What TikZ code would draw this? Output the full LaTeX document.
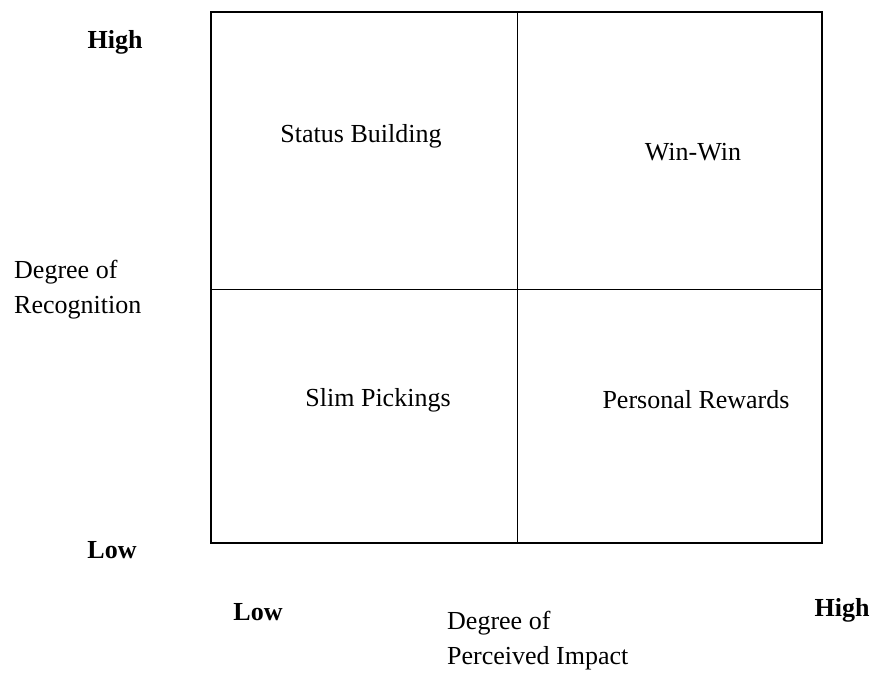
\documentclass[tikz,border=0pt]{standalone}
\usepackage{fontspec}
\setmainfont{Liberation Serif}
\usepackage{tikz}

\begin{document}
\begin{tikzpicture}[x=1pt, y=-1pt]
	\tikzstyle{label} = [font=\fontsize{26}{35}\selectfont, inner sep=0pt]
	\tikzstyle{level} = [label, font=\fontsize{26}{35}\selectfont\bfseries]
	\tikzstyle{axis} = [label, align=left, anchor=west]
	\tikzstyle{frame} = [line width=2.2pt]
	\tikzstyle{divider} = [line width=0.8pt]
	\useasboundingbox (0,0) rectangle (880,675);
	\coordinate (tl) at (211,12);
	\coordinate (br) at (822,543);
	\coordinate (top) at (517,12);
	\coordinate (bottom) at (517,543);
	\coordinate (left) at (211,289);
	\coordinate (right) at (822,289);
	\draw[divider] (top) -- (bottom);
	\draw[divider] (left) -- (right);
	\draw[frame] (tl) rectangle (br);
	\node[label](status) at (361,136){Status Building};
	\node[label](winwin) at (693,152){Win-Win};
	\node[label](slim) at (378,400){Slim Pickings};
	\node[label](personal) at (696,400){Personal Rewards};
	\node[level](yhigh) at (115,42){High};
	\node[level](ylow) at (112,550){Low};
	\node[level](xlow) at (258,612){Low};
	\node[level](xhigh) at (842,610){High};
	\node[axis](ytitle) at (14,290){Degree of\\Recognition};
	\node[axis](xtitle) at (447,641){Degree of\\Perceived Impact};
\end{tikzpicture}
\end{document}
